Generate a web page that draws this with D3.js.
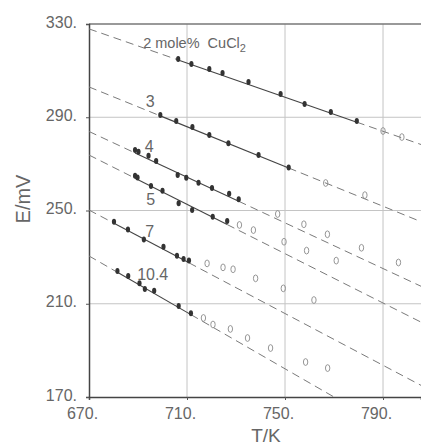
<!DOCTYPE html>
<html>
<head>
<meta charset="utf-8">
<script src="https://cdn.jsdelivr.net/npm/d3@7"></script>
<style>
  body { margin: 0; background: #fff; }
  text { font-family: "Liberation Sans", Arial, sans-serif; fill: #666; }
</style>
</head>
<body>
<div id="chart"></div>
<script>
// concentration (mole% CuCl2) of each curve
const seriesNames = ["2", "3", "4", "5", "7", "10.4"];

// straight-line fits: E at 670 K (mV) and slope (mV/K)
const fitE670 = [327.9, 303.0, 283.9, 273.8, 250.2, 230.5];
const fitSlope = [-0.366, -0.4265, -0.49, -0.529, -0.555, -0.605];

// measured points [T/K, E/mV]; filled = used in fit, open = not used
const s2Filled = [[706.4, 315.0], [711.8, 312.8], [719.1, 310.7], [724.5, 309.0], [735.1, 305.1], [748.2, 300.0], [758.0, 295.7], [768.7, 292.2], [779.3, 288.4]];
const s2Open = [[790.0, 284.1], [797.7, 281.5]];

const s3Filled = [[699.1, 291.0], [705.6, 288.4], [712.2, 285.8], [719.1, 282.4], [726.9, 278.8], [739.2, 273.8], [751.5, 268.4]];
const s3Open = [[766.6, 261.8], [782.6, 256.6]];

const s4Filled = [[688.8, 275.9], [690.2, 275.2], [694.3, 273.5], [697.4, 271.2], [706.2, 265.2], [709.7, 264.1], [714.7, 261.9], [720.2, 259.6], [727.2, 257.2], [731.1, 254.8]];
const s4Open = [[747.0, 248.5], [757.7, 244.1], [767.3, 239.8], [781.2, 234.0], [796.3, 227.7]];

const s5Filled = [[688.8, 264.9], [689.8, 264.2], [695.3, 260.5], [700.0, 258.5], [706.6, 253.1], [712.1, 250.2], [720.5, 247.3], [726.4, 245.5]];
const s5Open = [[731.4, 243.8], [737.1, 241.6], [749.6, 236.6], [758.8, 232.8], [770.9, 228.5]];

const s7Filled = [[680.2, 245.2], [685.9, 241.9], [692.4, 237.6], [700.4, 234.5], [705.9, 230.6], [708.6, 229.2], [710.8, 228.5]];
const s7Open = [[718.2, 227.3], [724.7, 225.6], [728.8, 224.8], [738.0, 220.9], [749.3, 216.6], [761.8, 211.6]];

const s104Filled = [[681.6, 224.0], [686.0, 221.9], [690.6, 218.8], [692.8, 216.3], [696.6, 215.6], [706.6, 209.0], [711.6, 205.9]];
const s104Open = [[716.7, 203.9], [720.6, 201.1], [727.7, 199.2], [734.7, 195.3], [744.1, 191.0], [758.4, 185.0], [767.4, 182.4]];

const filledSets = [s2Filled, s3Filled, s4Filled, s5Filled, s7Filled, s104Filled];
const openSets = [s2Open, s3Open, s4Open, s5Open, s7Open, s104Open];

const xTicks = [670, 710, 750, 790];
const yTicks = [170, 210, 250, 290, 330];

const W = 421, H = 446;
const svg = d3.select("#chart").append("svg").attr("width", W).attr("height", H);

const x = d3.scaleLinear().domain([670, 805.5]).range([89, 421]);
const y = d3.scaleLinear().domain([170, 330]).range([397, 24]);

// grid
svg.append("g").selectAll("line").data(xTicks.slice(1)).join("line")
  .attr("x1", d => x(d)).attr("x2", d => x(d)).attr("y1", y(330)).attr("y2", y(170))
  .attr("stroke", "#c4c4c4").attr("stroke-width", 1);
svg.append("g").selectAll("line").data(yTicks.slice(1, -1)).join("line")
  .attr("x1", x(670)).attr("x2", W).attr("y1", d => y(d)).attr("y2", d => y(d))
  .attr("stroke", "#c4c4c4").attr("stroke-width", 1);

// frame top
svg.append("line").attr("x1", x(670)).attr("x2", W).attr("y1", y(330)).attr("y2", y(330))
  .attr("stroke", "#777").attr("stroke-width", 1.5);

// axes
const xAxis = svg.append("g").attr("transform", `translate(0,${y(170)})`)
  .call(d3.axisBottom(x).tickValues(xTicks).tickFormat(d => d + ".").tickSize(3).tickPadding(8));
const yAxis = svg.append("g").attr("transform", `translate(${x(670)},0)`)
  .call(d3.axisLeft(y).tickValues(yTicks).tickFormat(d => d + ".").tickSize(3).tickPadding(9));
[xAxis, yAxis].forEach(g => {
  g.select(".domain").attr("stroke", "#444").attr("stroke-width", 1.5);
  g.selectAll(".tick line").attr("stroke", "#555");
  g.selectAll("text").attr("fill", "#666").style("font-size", "16px")
    .style("font-family", '"Liberation Sans", Arial, sans-serif');
});
xAxis.selectAll("text").attr("x", -7);
yAxis.selectAll("text").attr("dy", "0.2em");

// axis titles
svg.append("text").attr("x", 266).attr("y", 442).attr("text-anchor", "middle")
  .style("font-size", "19px").text("T/K");
svg.append("text").attr("transform", "translate(30,199) rotate(-90)")
  .attr("text-anchor", "middle").style("font-size", "20px").text("E/mV");

// plot clip
svg.append("clipPath").attr("id", "plot").append("rect")
  .attr("x", x(670)).attr("y", y(330)).attr("width", W - x(670)).attr("height", y(170) - y(330));
const plot = svg.append("g").attr("clip-path", "url(#plot)");

const line = d3.line().x(d => x(d[0])).y(d => y(d[1]));
const tMin = 670, tMax = x.invert(W + 2);

seriesNames.forEach((name, i) => {
  const f = t => fitE670[i] + fitSlope[i] * (t - 670);
  const ext = d3.extent(filledSets[i], d => d[0]);
  // dashed extrapolations
  [[tMin, ext[0]], [ext[1], tMax]].forEach(([a, b]) => {
    plot.append("path").attr("d", line([[a, f(a)], [b, f(b)]]))
      .attr("fill", "none").attr("stroke", "#7a7a7a").attr("stroke-width", 1)
      .attr("stroke-dasharray", "8,5");
  });
  // solid fitted range
  plot.append("path").attr("d", line([[ext[0], f(ext[0])], [ext[1], f(ext[1])]]))
    .attr("fill", "none").attr("stroke", "#444").attr("stroke-width", 1.1);

  plot.append("g").selectAll("ellipse").data(filledSets[i]).join("ellipse")
    .attr("cx", d => x(d[0])).attr("cy", d => y(d[1]))
    .attr("rx", 2.1).attr("ry", 3).attr("fill", "#333");
  plot.append("g").selectAll("ellipse").data(openSets[i]).join("ellipse")
    .attr("cx", d => x(d[0])).attr("cy", d => y(d[1]))
    .attr("rx", 2.2).attr("ry", 3.4).attr("fill", "none")
    .attr("stroke", "#8a8a8a").attr("stroke-width", 0.9);
});

// curve labels [T, E] placed as on the plot
const labelPos = [[692.1, 319.7], [695.0, 294.4], [694.6, 275.1], [695.2, 252.3], [694.8, 238.6], [696.0, 220.2]];
seriesNames.forEach((name, i) => {
  const t = svg.append("text").attr("x", x(labelPos[i][0])).attr("y", y(labelPos[i][1]))
    .style("font-size", i === 0 ? "14.5px" : "16px")
    .attr("text-anchor", i === 0 ? "start" : "middle");
  if (i === 0) {
    t.attr("xml:space", "preserve").text(name + " mole%  CuCl");
    t.append("tspan").attr("dy", 4).style("font-size", "11px").text("2");
  } else {
    t.text(name);
  }
});
</script>
</body>
</html>
